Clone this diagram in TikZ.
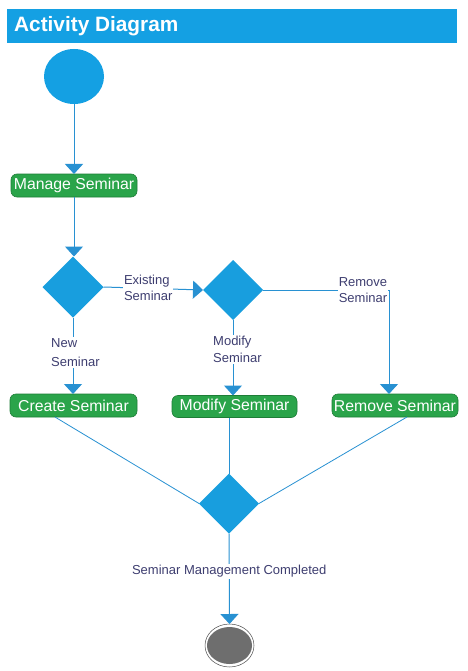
\documentclass[tikz,border=0pt]{standalone}
\usepackage{fontspec}
\setmainfont{Liberation Sans}
\usetikzlibrary{shapes.geometric,arrows.meta,calc}
\definecolor{titleblue}{RGB}{20,160,227}
\definecolor{nodeblue}{RGB}{24,158,222}
\definecolor{boxgreen}{RGB}{42,164,74}
\definecolor{boxedge}{RGB}{30,125,55}
\definecolor{lineblue}{RGB}{40,145,210}
\definecolor{labelcol}{RGB}{62,62,112}
\definecolor{endgray}{RGB}{110,110,110}
\tikzset{
  actbox/.style={rectangle, rounded corners=6pt, fill=boxgreen, draw=boxedge, line width=0.6pt,
    text=white, font=\fontsize{15.8}{18}\selectfont, minimum height=23pt, inner sep=0pt, outer sep=0pt},
  decision/.style={diamond, fill=nodeblue, minimum width=61pt, minimum height=61pt, inner sep=0pt, outer sep=0pt, aspect=1},
  flow/.style={draw=lineblue, line width=1pt, -{Triangle[width=18pt,length=10pt]}},
  plainflow/.style={draw=lineblue, line width=0.8pt},
  guard/.style={text=labelcol, fill=white, font=\fontsize{13}{16}\selectfont, align=left, inner sep=1pt}
}
\begin{document}
\begin{tikzpicture}[x=1pt,y=-1pt]
\useasboundingbox (0,0) rectangle (467,671);
\fill[white] (0,0) rectangle (467,671);
% title bar
\node[fill=titleblue, minimum width=450pt, minimum height=34pt, inner sep=0pt, anchor=north west] (titlebar) at (7,9) {};
\node[text=white, font=\bfseries\fontsize{20.8}{24}\selectfont, anchor=west, inner sep=0pt] (titletext) at (14,26) {Activity Diagram};
% nodes
\node[ellipse, fill=titleblue, minimum width=60pt, minimum height=55pt, inner sep=0pt, outer sep=0pt] (start) at (74,76.5) {};
\node[actbox, minimum width=126pt] (manage) at (74,185.5) {Manage Seminar};
\node[decision] (d1) at (73,287) {};
\node[decision, minimum width=60pt, minimum height=60pt] (d2) at (233,290) {};
\node[actbox, minimum width=127pt] (create) at (73.5,405.5) {Create Seminar};
\node[actbox, minimum width=125pt, minimum height=22pt] (modify) at (234.5,406.5) {Modify Seminar};
\node[actbox, minimum width=126pt] (remove) at (395,405.5) {Remove Seminar};
\node[decision, minimum width=60pt, minimum height=60pt] (d3) at (229,503.5) {};
\node[ellipse, fill=white, draw=black!70, line width=0.5pt, minimum width=49pt, minimum height=43pt, inner sep=0pt, outer sep=0pt] (endouter) at (229.5,645.5) {};
\node[ellipse, fill=endgray, minimum width=45pt, minimum height=37pt, inner sep=0pt] (endinner) at (229.5,645.5) {};
\coordinate (corner) at (389,290);
% connectors
\draw[flow] (start) -- (manage.north);
\draw[flow] (manage.south) -- (manage.south |- d1.north);
\draw[flow] (d1.east) -- node[guard, pos=0.45] (lexist) {Existing\\Seminar} (d2.west);
\draw[plainflow, line width=1pt] (d2.east) -- (corner);
\node[guard] (lremove) at (363,290.5) {Remove\\Seminar};
\draw[flow] (corner) -- (corner |- remove.north);
\draw[flow] (d2.south) -- (d2.south |- modify.north);
\node[guard, anchor=west, align=left] (lmodify) at (212,349.5) {Modify\\[1pt]Seminar};
\draw[flow] (d1.south) -- (d1.south |- create.north);
\node[guard, anchor=west] (lnew) at (50,352.5) {New\\[3pt]Seminar};
\draw[plainflow] ($(create.south west)!0.354!(create.south east)$) -- (d3.west);
\draw[plainflow] ($(remove.south west)!0.595!(remove.south east)$) -- (d3.east);
\draw[plainflow] (d3.north |- modify.south) -- (d3.north);
\draw[flow] (d3.south) -- node[guard, pos=0.42] (ldone) {Seminar Management Completed} (endouter.north);
\end{tikzpicture}
\end{document}
